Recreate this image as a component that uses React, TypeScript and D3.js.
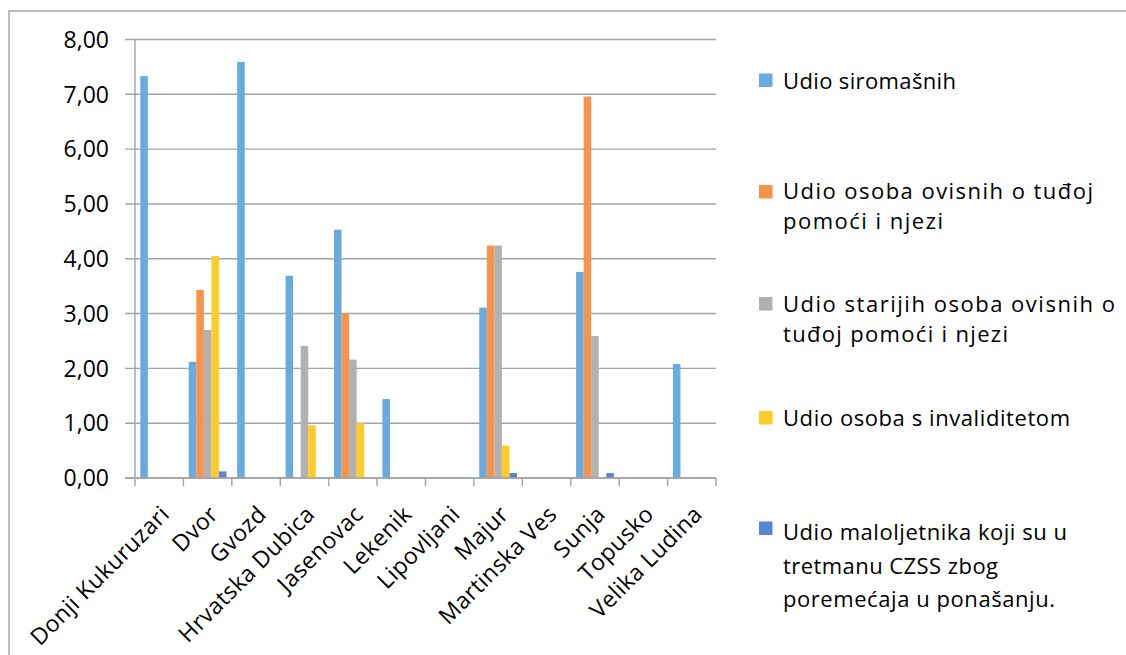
import React from "react";
import * as d3 from "d3";

const categories = [
  "Donji Kukuruzari",
  "Dvor",
  "Gvozd",
  "Hrvatska Dubica",
  "Jasenovac",
  "Lekenik",
  "Lipovljani",
  "Majur",
  "Martinska Ves",
  "Sunja",
  "Topusko",
  "Velika Ludina",
];

const udioSiromasnih = [7.33, 2.12, 7.59, 3.69, 4.53, 1.44, 0, 3.11, 0, 3.76, 0, 2.08];
const udioOvisnih = [0, 3.43, 0, 0, 3.01, 0, 0, 4.24, 0, 6.96, 0, 0];
const udioStarijih = [0, 2.7, 0, 2.41, 2.16, 0, 0, 4.24, 0, 2.59, 0, 0];
const udioInvaliditet = [0, 4.05, 0, 0.96, 1.0, 0, 0, 0.59, 0, 0, 0, 0];
const udioMaloljetnika = [0, 0.12, 0, 0, 0, 0, 0, 0.09, 0, 0.09, 0, 0];

const yTicks = [0, 1, 2, 3, 4, 5, 6, 7, 8];

const seriesNames = [
  ["Udio siromašnih"],
  ["Udio osoba ovisnih o tuđoj", "pomoći i njezi"],
  ["Udio starijih osoba ovisnih o", "tuđoj pomoći i njezi"],
  ["Udio osoba s invaliditetom"],
  ["Udio maloljetnika koji su u", "tretmanu CZSS zbog", "poremećaja u ponašanju."],
];

const seriesValues = [udioSiromasnih, udioOvisnih, udioStarijih, udioInvaliditet, udioMaloljetnika];
const colors = ["#6AABDF", "#F5944A", "#B1B1B1", "#FFCB27", "#5586D1"];

// layout
const W = 1126;
const H = 655;
const plotLeft = 135;
const plotRight = 716;
const plotTop = 39.5;
const plotBottom = 478;
const legendSquareTop = [73.5, 185, 297, 411, 521.5];
const legendBaseline = [88.5, 198.5, 312, 426, 540];
const legendLineGap = [30, 30, 30, 30, 33.5];
const legendLineWidths = [[173], [310, 160], [332, 225], [287], [284, 215, 272]];

export default function App() {
  const x = d3.scaleBand<string>().domain(categories).range([plotLeft, plotRight]).paddingInner(0).paddingOuter(0);
  const bw = x.bandwidth();
  const pad = bw * 0.11;
  const xs = d3
    .scaleBand<number>()
    .domain(d3.range(seriesValues.length))
    .range([pad, bw - pad])
    .paddingInner(0);
  const y = d3.scaleLinear().domain([0, 8]).range([plotBottom, plotTop]);
  const fmt = (v: number) => d3.format(".2f")(v).replace(".", ",");
  const font = "'Open Sans', 'DejaVu Sans', sans-serif";

  const tickXs = categories.map((c) => x(c) as number).concat([plotRight]);

  return (
    <svg
      width={W}
      height={H}
      style={{ position: "absolute", left: 0, top: 0, background: "#fff" }}
      fontFamily={font}
    >
      <rect x={0} y={0} width={W} height={H} fill="#fff" />
      {/* chart frame */}
      <rect x={9} y={11} width={W + 20} height={H + 20} fill="none" stroke="#A6A6A6" strokeWidth={1.5} />

      {/* gridlines */}
      {yTicks.map((t) => (
        <line
          key={"g" + t}
          x1={plotLeft - 10}
          x2={plotRight}
          y1={y(t)}
          y2={y(t)}
          stroke="#A3A3A3"
          strokeWidth={1.4}
        />
      ))}
      {/* y labels */}
      {yTicks.map((t) => (
        <text
          key={"yl" + t}
          x={109}
          y={y(t)}
          dy="0.36em"
          textAnchor="end"
          fontSize={23}
          fill="#000"
        >
          {fmt(t)}
        </text>
      ))}

      {/* bars */}
      {seriesValues.map((vals, si) =>
        vals.map((v, ci) =>
          v > 0 ? (
            <rect
              key={`b${si}-${ci}`}
              x={(x(categories[ci]) as number) + (xs(si) as number)}
              y={y(v)}
              width={xs.bandwidth()}
              height={plotBottom - y(v)}
              fill={colors[si]}
            />
          ) : null
        )
      )}

      {/* axes */}
      <line x1={plotLeft} x2={plotLeft} y1={plotTop} y2={plotBottom} stroke="#A3A3A3" strokeWidth={1.4} />
      <line x1={plotLeft - 10} x2={plotRight} y1={plotBottom} y2={plotBottom} stroke="#A3A3A3" strokeWidth={1.4} />
      {tickXs.map((tx, i) => (
        <line key={"xt" + i} x1={tx} x2={tx} y1={plotBottom} y2={plotBottom + 8} stroke="#A3A3A3" strokeWidth={1.4} />
      ))}

      {/* category labels */}
      {categories.map((c) => {
        const cx = (x(c) as number) + bw / 2;
        return (
          <text
            key={"cl" + c}
            transform={`translate(${cx},${plotBottom + 26}) rotate(-45)`}
            dy="0.72em"
            textAnchor="end"
            fontSize={23}
            letterSpacing={0.4}
            fill="#000"
          >
            {c}
          </text>
        );
      })}

      {/* legend */}
      {seriesNames.map((lines, si) => (
        <g key={"lg" + si}>
          <rect x={759} y={legendSquareTop[si]} width={13.5} height={13.5} fill={colors[si]} />
          {lines.map((ln, li) => (
            <text
              key={li}
              x={783}
              y={legendBaseline[si] + li * legendLineGap[si]}
              fontSize={22}
              textLength={legendLineWidths[si][li]}
              lengthAdjust="spacing"
              fill="#000"
            >
              {ln}
            </text>
          ))}
        </g>
      ))}
    </svg>
  );
}
